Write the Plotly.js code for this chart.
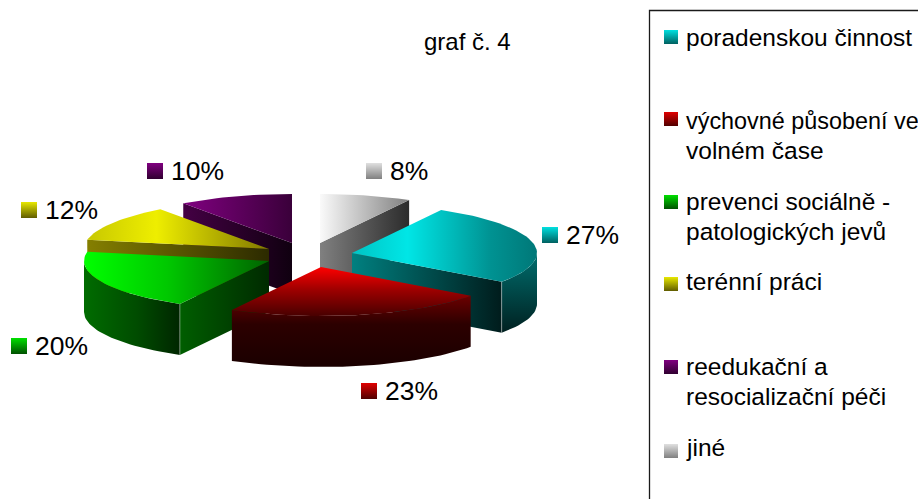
<!DOCTYPE html>
<html>
<head>
<meta charset="utf-8">
<script src="https://cdn.plot.ly/plotly-3.0.1.min.js"></script>
<style>html,body{margin:0;padding:0;background:#fff;overflow:hidden}#chart{width:918px;height:499px}</style>
</head>
<body>
<div id="chart"></div>
<script>
// ---- data ----
const categories = ['poradenskou činnost', 'výchovné působení ve\nvolném čase', 'prevenci sociálně -\npatologických jevů', 'terénní práci', 'reedukační a\nresocializační péči', 'jiné'];
const values = [27, 23, 20, 12, 10, 8];
const chartTitle = 'graf č. 4';

// ---- styles and layout ----
const FONT = '"Liberation Sans", Arial, sans-serif';
const firstAngle = 28.8;            // degrees clockwise from 12 o'clock
const radiusX = 185, radiusY = 49, depth = 51;
const apexX = [352, 321, 269, 269, 292, 320];
const apexY = [253, 267, 261, 249, 243, 243];
const drawOrder = [4, 5, 3, 0, 2, 1];
const topGrad = [
  ['horizontal', [[0,'#00c4c4'],[0.3,'#00e6e6'],[0.55,'#00b8b8'],[0.75,'#009292'],[1,'#007878']]],
  ['vertical',   [[0,'#480000'],[0.55,'#a00000'],[1,'#ff0000']]],
  ['horizontal', [[0,'#00ff00'],[0.45,'#00c800'],[1,'#006400']]],
  ['horizontal', [[0,'#c8c800'],[0.38,'#eeee00'],[1,'#807800']]],
  ['horizontal', [[0,'#800080'],[1,'#3a003a']]],
  ['horizontal', [[0,'#fafafa'],[1,'#808080']]]
];
const rimGrad = [
  ['vertical',   [[0,'#002020'],[1,'#006e6e']]],
  ['vertical',   [[0,'#1a0000'],[0.6,'#2c0000'],[1,'#6c0000']]],
  ['horizontal', [[0,'#006c00'],[0.55,'#004c00'],[1,'#002600']]],
  null, null, null
];
const faceGrad = [
  ['horizontal', [[0,'#008080'],[1,'#001c1c']]],
  null,
  ['horizontal', [[0,'#005e00'],[1,'#002a00']]],
  ['horizontal', [[0,'#857f00'],[1,'#2c2a00']]],
  ['horizontal', [[0,'#440044'],[1,'#100010']]],
  ['horizontal', [[0,'#808080'],[1,'#2c2c2c']]]
];
const markColors = ['#00e0e0', '#e00000', '#00e000', '#e8e800', '#800080', '#e0e0e0'];
const markEnds   = ['#006060', '#500000', '#005000', '#605c00', '#300030', '#808080'];
const valueLabelPos = [[542,235],[361,391],[11,346],[21,210],[147,171],[366,171]];
const legendMarkY = [37, 119, 202, 284, 367, 451];
const legendLineY = [[37], [121,150], [201,231], [281], [366,396], [447]];
const legendSize = [[24.5], [23.4,24.5], [24.5,24.5], [24.5], [24.5,24.5], [24.5]];
const total = values.reduce((a, b) => a + b, 0);

const traces = [];
function poly(xs, ys, grad) {
  traces.push({type:'scatter', mode:'lines', x:xs, y:ys, fill:'toself', hoverinfo:'skip',
    line:{width:0, color:'rgba(0,0,0,0)'},
    fillgradient:{type:grad[0], colorscale:grad[1]}, showlegend:false});
}
function edge(xs, ys, color) {
  traces.push({type:'scatter', mode:'lines', x:xs, y:ys, hoverinfo:'skip', showlegend:false,
    line:{width:1, color:color}});
}
const rad = d => d * Math.PI / 180;
const px = (i, t) => apexX[i] + radiusX * Math.sin(rad(t));
const py = (i, t) => apexY[i] - radiusY * Math.cos(rad(t));

const starts = [], ends = [];
let acc = firstAngle;
values.forEach((v, i) => { starts[i] = acc; acc += v / total * 360; ends[i] = acc; });

function arc(a, b) {
  const out = [];
  const n = Math.max(2, Math.ceil((b - a) / 2));
  for (let k = 0; k <= n; k++) out.push(a + (b - a) * k / n);
  return out;
}
drawOrder.forEach(i => {
  const a = starts[i], b = ends[i];
  const endNorm = b > 360.001 ? b - 360 : b;
  const wallAngle = endNorm < 180 ? b : a;
  // radial wall
  if (faceGrad[i]) {
    const t = wallAngle;
    poly([apexX[i], px(i,t), px(i,t), apexX[i], apexX[i]],
         [apexY[i], py(i,t), py(i,t)+depth, apexY[i]+depth, apexY[i]], faceGrad[i]);
  }
  // outer wall
  const r0 = Math.max(a, 90), r1 = Math.min(b, 270);
  if (rimGrad[i] && r1 > r0) {
    const ts = arc(r0, r1);
    const xs = ts.map(t => px(i,t)), ys = ts.map(t => py(i,t));
    poly(xs.concat(xs.slice().reverse()), ys.concat(ys.slice().reverse().map(y => y + depth)), rimGrad[i]);
  }
  // top face
  const ts = arc(a, b);
  poly([apexX[i]].concat(ts.map(t => px(i,t)), [apexX[i]]),
       [apexY[i]].concat(ts.map(t => py(i,t)), [apexY[i]]), topGrad[i]);
  // light corner line
  if (faceGrad[i] && rimGrad[i]) {
    edge([px(i,wallAngle), px(i,wallAngle)], [py(i,wallAngle), py(i,wallAngle)+depth], 'rgba(255,255,255,0.4)');
  }
});

// value-label swatches and legend swatches
const markX = valueLabelPos.map(p => p[0] + 8), markY = valueLabelPos.map(p => p[1]);
traces.push({type:'scatter', mode:'markers', x:markX, y:markY, hoverinfo:'skip', showlegend:false,
  marker:{symbol:'square', size:16, color:markColors, line:{width:0},
    gradient:{type:'vertical', color:markEnds}}});
traces.push({type:'scatter', mode:'markers', x:categories.map(() => 671), y:legendMarkY, hoverinfo:'skip', showlegend:false,
  marker:{symbol:'square', size:14, color:markColors, line:{width:0},
    gradient:{type:'vertical', color:markEnds}}});

const annotations = [];
function label(text, x, y, size, anchor) {
  annotations.push({xref:'x', yref:'y', x:x, y:y, text:text, showarrow:false,
    xanchor:anchor || 'left', yanchor:'middle', align:'left',
    font:{family:FONT, size:size, color:'#000'}, borderpad:0, borderwidth:0});
}
label(chartTitle, 467, 41, 24, 'center');
values.forEach((v, i) => {
  const p = valueLabelPos[i];
  label(Math.round(v / total * 100) + '%', p[0] + 24, p[1], 26.5);
});
categories.forEach((c, i) => {
  c.split('\n').forEach((ln, j) => label(ln, 686, legendLineY[i][j], legendSize[i][j]));
});

const layout = {
  width:918, height:499,
  margin:{l:0, r:0, t:0, b:0},
  paper_bgcolor:'#fff', plot_bgcolor:'#fff',
  showlegend:false, hovermode:false,
  xaxis:{range:[0,918], visible:false, fixedrange:true},
  yaxis:{range:[499,0], visible:false, fixedrange:true},
  annotations:annotations,
  shapes:[{type:'rect', xref:'x', yref:'y', x0:649.5, x1:940, y0:10.5, y1:520,
    line:{color:'#1a1a1a', width:1.3}, fillcolor:'rgba(0,0,0,0)', layer:'below'}]
};
Plotly.newPlot('chart', traces, layout, {displayModeBar:false, staticPlot:true});
</script>
</body>
</html>
